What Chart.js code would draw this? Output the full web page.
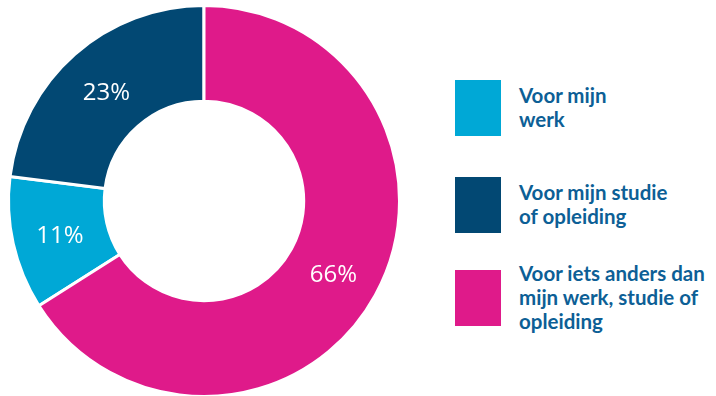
<!DOCTYPE html>
<html>
<head>
<meta charset="utf-8">
<script src="https://cdn.jsdelivr.net/npm/chart.js@4"></script>
<style>
  html, body { margin: 0; padding: 0; background: #fff; }
  body { width: 716px; height: 396px; position: relative; overflow: hidden; }
  #wrap { position: absolute; left: 0; top: 4px; width: 408px; height: 394px; }
  .sw { position: absolute; left: 455px; width: 46px; height: 56px; }
  .lbl { position: absolute; left: 519px; font-family: Lato, sans-serif; font-weight: bold;
         font-size: 20.5px; line-height: 24px; color: #0d5f96; white-space: nowrap; }
</style>
</head>
<body>
<div id="wrap"><canvas id="chart"></canvas></div>
<div id="legend"></div>
<script>
'use strict';

// legend order
let categories = [['Voor mijn', 'werk'], ['Voor mijn studie', 'of opleiding'], ['Voor iets anders dan', 'mijn werk, studie of', 'opleiding']];
let values = [11, 23, 66];
let colors = ['#00a8d6', '#024873', '#df1a8a'];

let swatchTops = [80, 177, 270];
let textTops = [83, 180, 261];

let legendElem = document.getElementById('legend');
for (let i = 0; i < categories.length; i++) {
    let sw = document.createElement('div');
    sw.className = 'sw';
    sw.style.top = swatchTops[i] + 'px';
    sw.style.background = colors[i];
    legendElem.appendChild(sw);
    let t = document.createElement('div');
    t.className = 'lbl';
    t.style.top = textTops[i] + 'px';
    t.innerHTML = categories[i].join('<br>');
    legendElem.appendChild(t);
}

let total = values.reduce((a, b) => a + b, 0);

// draws the percentages in the middle of each slice
let pctLabels = {
    id: 'pctLabels',
    afterDatasetsDraw(chart) {
        let ctx = chart.ctx;
        let meta = chart.getDatasetMeta(0);
        ctx.save();
        ctx.fillStyle = '#ffffff';
        ctx.font = '24px "Open Sans"';
        ctx.textAlign = 'center';
        ctx.textBaseline = 'middle';
        meta.data.forEach((arc, i) => {
            let p = arc.tooltipPosition();
            ctx.fillText(values[i] + '%', p.x, p.y + 3);
        });
        ctx.restore();
    }
};

let canvasElem = document.getElementById('chart');
new Chart(canvasElem, {
    type: 'doughnut',
    data: {
        labels: categories.map(c => c.join(' ')),
        datasets: [{
            data: values,
            backgroundColor: colors,
            borderColor: '#ffffff',
            borderWidth: 3
        }]
    },
    options: {
        responsive: true,
        maintainAspectRatio: false,
        animation: false,
        cutout: '51%',
        // start the first slice where the big one ends
        rotation: 360 * values[2] / total,
        layout: { padding: 0 },
        plugins: {
            legend: { display: false },
            tooltip: { enabled: false }
        }
    },
    plugins: [pctLabels]
});
</script>
</body>
</html>
